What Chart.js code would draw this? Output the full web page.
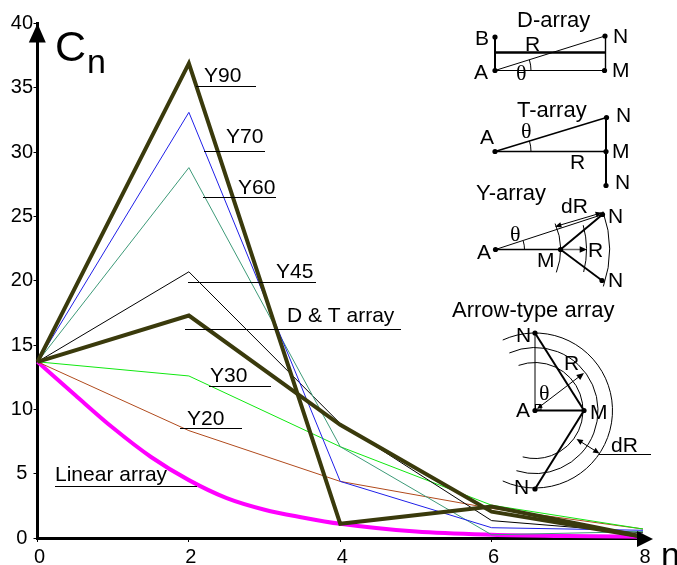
<!DOCTYPE html>
<html>
<head>
<meta charset="utf-8">
<style>html,body{margin:0;padding:0;background:#fff}#w{width:677px;height:565px;position:relative;overflow:hidden}canvas{display:block}</style>
<script src="https://cdn.jsdelivr.net/npm/chart.js@4"></script>
</head>
<body>
<div id="w"><canvas id="c" width="677" height="565"></canvas></div>
<script>
const nValues = [0, 2, 4, 6, 8];
const y90 = [13.7, 36.9, 1.1, 2.45, 0.1];
const y70 = [13.7, 33.1, 4.4, 0.8, 0.6];
const y60 = [13.7, 28.8, 7.1, 0.25, 0.5];
const y45 = [13.7, 20.7, 8.9, 1.35, 0.4];
const dt = [13.7, 17.3, 8.8, 2.05, 0.1];
const y30 = [13.7, 12.6, 7.1, 2.55, 0.7];
const y20 = [13.7, 8.35, 4.4, 2.3, 0.7];
const linearN = [0, 0.5, 1, 1.5, 2, 2.5, 3, 3.5, 4, 5, 6, 7, 8];
const linearV = [13.7, 11.1, 8.55, 6.3, 4.5, 3.1, 2.2, 1.6, 1.1, 0.5, 0.25, 0.15, 0.1];
const yTicks = [0, 5, 10, 15, 20, 25, 30, 35, 40];
const xTicks = [0, 2, 4, 6, 8];

const FONT = '"Liberation Sans", Arial, sans-serif';
const SERIF = '"Liberation Serif", serif';
const pts = (xs, ys) => xs.map((x, i) => ({x, y: ys[i]}));
const DARK = '#3a3a0c';

const line = (label, ys, color, w) => ({label, data: pts(nValues, ys), borderColor: color, borderWidth: w, pointRadius: 0, tension: 0, clip: false, fill: false});

const callouts = [
  ['Y90', 204, 82, 196, 256, 86.5],
  ['Y70', 226, 143, 204, 265, 151.5],
  ['Y60', 238, 194, 203, 276, 197.5],
  ['Y45', 276, 278, 188, 316, 282.5],
  ['D & T array', 287, 322, 185, 401, 329.5],
  ['Y30', 210, 382, 209, 271, 386.5],
  ['Y20', 187, 425, 180, 242, 428.5],
  ['Linear array', 55, 481, 55, 197, 486.5]
];

function seg(c, x1, y1, x2, y2, w, col) {
  c.beginPath(); c.moveTo(x1, y1); c.lineTo(x2, y2);
  c.lineWidth = w || 1; c.strokeStyle = col || '#000'; c.stroke();
}
function dot(c, x, y) { c.beginPath(); c.arc(x, y, 2.6, 0, Math.PI * 2); c.fillStyle = '#000'; c.fill(); }
function txt(c, s, x, y, size, font) {
  c.font = (size || 21) + 'px ' + (font || FONT); c.fillStyle = '#000';
  c.textAlign = 'left'; c.textBaseline = 'alphabetic'; c.fillText(s, x, y);
}
function arc(c, cx, cy, r, a0, a1, w) {
  c.beginPath(); c.arc(cx, cy, r, a0, a1); c.lineWidth = w || 1; c.strokeStyle = '#000'; c.stroke();
}
function head(c, x, y, fromX, fromY, size) {
  const a = Math.atan2(y - fromY, x - fromX), s = size || 7;
  c.beginPath(); c.moveTo(x, y);
  c.lineTo(x - s * Math.cos(a - 0.42), y - s * Math.sin(a - 0.42));
  c.lineTo(x - s * Math.cos(a + 0.42), y - s * Math.sin(a + 0.42));
  c.closePath(); c.fillStyle = '#000'; c.fill();
}
function tri(c, p) {
  c.beginPath(); c.moveTo(p[0], p[1]); c.lineTo(p[2], p[3]); c.lineTo(p[4], p[5]);
  c.closePath(); c.fillStyle = '#000'; c.fill();
}

const decor = {
  id: 'decor',
  afterDatasetsDraw(chart) {
    const c = chart.ctx, a = chart.chartArea;
    c.save();
    c.lineCap = 'butt';
    // axis arrows
    tri(c, [a.left, a.top, a.left - 8.7, 42.5, a.left + 8.3, 42.5]);
    tri(c, [637, 531, 653, 539, 637, 547]);
    // axis names
    txt(c, 'C', 55, 61, 43);
    txt(c, 'n', 87, 73, 34);
    txt(c, 'n', 661, 566, 34);
    // callouts
    callouts.forEach(k => { txt(c, k[0], k[1], k[2], 21); seg(c, k[3], k[5], k[4], k[5], 1); });

    // D-array
    txt(c, 'D-array', 517, 27, 22);
    seg(c, 495, 37, 495, 70.5, 2);
    seg(c, 495, 52.5, 605.5, 52.5, 2.4);
    seg(c, 605.5, 36, 605.5, 70.5, 1.4);
    seg(c, 495, 70.5, 604.5, 70.5, 1);
    seg(c, 495, 70.5, 605, 36, 1);
    arc(c, 495, 70.5, 36, -0.3, 0, 1);
    [[495, 37], [605, 36], [495, 70.5], [604.5, 70.5]].forEach(p => dot(c, p[0], p[1]));
    txt(c, 'B', 475, 45, 21); txt(c, 'N', 613, 43, 21); txt(c, 'A', 474, 79, 21);
    txt(c, 'M', 612, 77, 21); txt(c, 'R', 525, 51, 21); txt(c, 'θ', 516, 80, 22, SERIF);

    // T-array
    txt(c, 'T-array', 517, 117, 22);
    seg(c, 495, 151.5, 606, 151.5, 1.5);
    seg(c, 495, 151.5, 606.5, 117.5, 1.5);
    seg(c, 606, 117.5, 606, 185.5, 2);
    arc(c, 495, 151.5, 36, -0.3, 0, 1);
    [[495, 151.5], [606.5, 117.5], [606, 151.5], [606, 185.5]].forEach(p => dot(c, p[0], p[1]));
    txt(c, 'N', 616, 122, 21); txt(c, 'A', 480, 144, 21); txt(c, 'M', 612, 158, 21);
    txt(c, 'R', 570, 169, 21); txt(c, 'N', 615, 189, 21); txt(c, 'θ', 521, 138, 22, SERIF);

    // Y-array
    txt(c, 'Y-array', 476, 200, 22);
    seg(c, 495.5, 249.5, 560.5, 249.5, 1.5);
    seg(c, 560.5, 249.5, 582, 249.5, 1.5, '#666');
    head(c, 587, 249.5, 560, 249.5, 8);
    seg(c, 495.5, 249.5, 602.5, 214.5, 1);
    seg(c, 560.5, 249.5, 602.5, 214.5, 2);
    seg(c, 560.5, 249.5, 602, 280.5, 1.8);
    arc(c, 495.5, 249.5, 29, -0.3, 0, 1);
    arc(c, 495.5, 249.5, 65, -0.41, 0.36, 1);
    arc(c, 495.5, 249.5, 91, -0.27, 0.25, 1);
    arc(c, 495.5, 249.5, 114, -0.34, 0.33, 1);
    seg(c, 557, 226, 601, 213, 1);
    head(c, 555, 226.7, 601, 213, 7); head(c, 602, 212.7, 557, 226, 7);
    [[495.5, 249.5], [560.5, 249.5], [602.5, 214.5], [602, 280.5]].forEach(p => dot(c, p[0], p[1]));
    txt(c, 'dR', 561, 213, 21); txt(c, 'N', 608, 223, 21); txt(c, 'A', 477, 259, 21);
    txt(c, 'M', 537, 267, 21); txt(c, 'R', 588, 257, 21); txt(c, 'N', 608, 287, 21);
    txt(c, 'θ', 510, 241, 22, SERIF);

    // Arrow-type array
    txt(c, 'Arrow-type array', 452, 317, 22);
    seg(c, 535, 333, 535, 410.5, 1);
    seg(c, 535, 333, 584, 410.5, 2);
    seg(c, 535, 410.5, 584, 410.5, 2);
    seg(c, 584, 410.5, 535, 489, 2);
    c.lineWidth = 1; c.strokeStyle = '#000'; c.strokeRect(535.5, 404.5, 5.5, 5.5);
    arc(c, 535, 410.5, 48, -1.92, 1.83, 1);
    arc(c, 535, 410.5, 63, -1.99, 1.87, 1);
    arc(c, 535, 410.5, 77.5, -2.0, 2.0, 1);
    seg(c, 538, 408, 580, 376, 1);
    head(c, 584, 373, 540, 407, 8); head(c, 537, 409, 560, 391, 6);
    seg(c, 578, 440, 598, 452.5, 1);
    head(c, 576.5, 439, 599, 453, 7); head(c, 599.5, 453.5, 577, 439, 7);
    seg(c, 599, 454.5, 651, 454.5, 1);
    [[535, 333], [535, 410.5], [584, 410.5], [535, 489]].forEach(p => dot(c, p[0], p[1]));
    txt(c, 'N', 516, 342, 21); txt(c, 'A', 516, 417, 21); txt(c, 'M', 590, 419, 21);
    txt(c, 'R', 564, 370, 21); txt(c, 'N', 514, 494, 21); txt(c, 'dR', 611, 452, 21);
    txt(c, 'θ', 539, 400, 22, SERIF);
    c.restore();
  }
};

new Chart(document.getElementById('c'), {
  type: 'line',
  data: {
    datasets: [
      line('Y90', y90, DARK, 4),
      line('D & T array', dt, DARK, 4),
      line('Y70', y70, '#1f1fe8', 1),
      line('Y60', y60, '#3d9a78', 1),
      line('Y45', y45, '#000000', 1),
      line('Y30', y30, '#10e810', 1),
      line('Y20', y20, '#b04a1c', 1),
      Object.assign(line('Linear array', [], '#ff00ff', 4), {data: pts(linearN, linearV), cubicInterpolationMode: 'monotone'})
    ]
  },
  options: {
    responsive: false, animation: false, events: [],
    layout: {padding: {top: 23.6, right: 34, left: 0, bottom: 0}},
    plugins: {legend: {display: false}, tooltip: {enabled: false}, title: {display: false}},
    scales: {
      x: {
        type: 'linear', min: 0, max: 8,
        afterFit(s) { s.height = 27; },
        afterBuildTicks(s) { s.ticks = xTicks.map(v => ({value: v})); },
        border: {color: '#000', width: 3},
        grid: {drawOnChartArea: false, drawTicks: true, tickLength: 4, color: '#000', lineWidth: 1},
        ticks: {color: '#000', font: {family: FONT, size: 20}, maxRotation: 0, padding: 3, labelOffset: 2, autoSkip: false}
      },
      y: {
        type: 'linear', min: 0, max: 40,
        afterFit(s) { s.width = 37.5; },
        afterBuildTicks(s) { s.ticks = yTicks.map(v => ({value: v})); },
        border: {color: '#000', width: 3},
        grid: {drawOnChartArea: false, drawTicks: true, tickLength: 4, color: '#000', lineWidth: 1},
        ticks: {color: '#000', font: {family: FONT, size: 20}, padding: 0.5, crossAlign: 'center', autoSkip: false}
      }
    }
  },
  plugins: [decor]
});
</script>
</body>
</html>
